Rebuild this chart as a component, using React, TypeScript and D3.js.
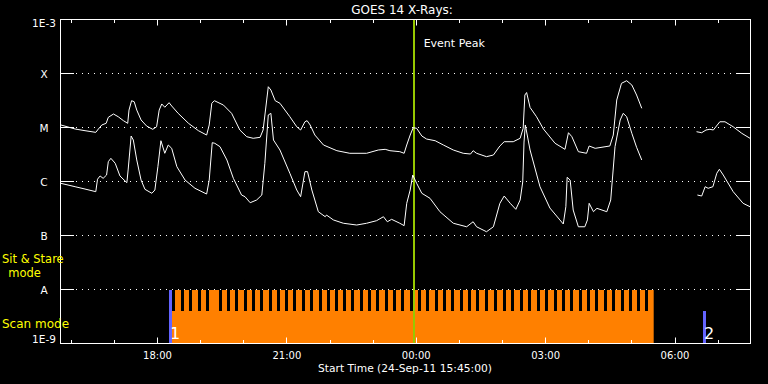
import React from "react";
import * as d3 from "d3";

// ---------- data ----------
// times in decimal hours since 24-Sep-2011 00:00 UT (values > 24 are on 25-Sep)
const START_H = 15.75;
const END_H = 31.75;

const LEVEL_VALUES = [1e-9, 1e-8, 1e-7, 1e-6, 1e-5, 1e-4, 1e-3];
const LEVEL_LABELS = ["1E-9", "A", "B", "C", "M", "X", "1E-3"];

// GOES long channel (1-8 A)
const LONG_T = [
  15.77, 16.10, 16.33, 16.58, 16.64, 16.72, 16.82, 16.87, 16.99, 17.10,
  17.22, 17.32, 17.35, 17.41, 17.47, 17.53, 17.63, 17.76, 17.90, 17.99,
  18.05, 18.11, 18.18, 18.28, 18.34, 18.49, 18.73, 18.96, 19.15, 19.21,
  19.27, 19.33, 19.54, 19.73, 19.92, 20.08, 20.23, 20.39, 20.46, 20.58,
  20.64, 20.74, 20.85, 21.08, 21.24, 21.33, 21.43, 21.48, 21.55, 21.66,
  21.86, 22.17, 22.47, 22.86, 23.13, 23.29, 23.40, 23.63, 23.73, 23.79,
  23.87, 23.94, 24.02, 24.14, 24.25, 24.45, 24.64, 24.87, 25.10, 25.27,
  25.33, 25.41, 25.64, 25.80, 25.95, 26.05, 26.26, 26.42, 26.49, 26.53,
  26.57, 26.65, 26.80, 26.96, 27.23, 27.46, 27.54, 27.62, 27.77, 27.96,
  28.02, 28.16, 28.50, 28.58, 28.66, 28.77, 28.89, 29.01, 29.12, 29.24,
  30.0,
  30.51, 30.63, 30.73, 30.82, 30.90, 31.05, 31.17, 31.36, 31.56, 31.75,
];
const LONG_F: (number | null)[] = [
  1.09e-5, 9.18e-6, 8.54e-6, 7.96e-6, 9.18e-6, 1.09e-5, 1.17e-5, 1.51e-5, 1.74e-5, 1.55e-5,
  1.31e-5, 1.17e-5, 2.06e-5, 3.07e-5, 2.94e-5, 2.06e-5, 1.35e-5, 1.04e-5, 9.06e-6, 1.01e-5,
  2.06e-5, 2.67e-5, 2.32e-5, 2.82e-5, 2.45e-5, 1.79e-5, 1.17e-5, 8.54e-6, 7.10e-6, 1.09e-5,
  2.75e-5, 3.07e-5, 2.55e-5, 1.79e-5, 8.80e-6, 6.61e-6, 6.18e-6, 6.44e-6, 8.80e-6, 5.57e-5,
  4.84e-5, 3.07e-5, 2.75e-5, 1.55e-5, 1.01e-5, 8.80e-6, 1.25e-5, 1.31e-5, 1.09e-5, 7.10e-6,
  4.64e-6, 3.64e-6, 3.26e-6, 3.26e-6, 3.75e-6, 3.86e-6, 3.64e-6, 3.49e-6, 3.26e-6, 4.64e-6,
  7.10e-6, 9.70e-6, 9.46e-6, 6.81e-6, 5.99e-6, 5.57e-6, 4.64e-6, 3.75e-6, 3.26e-6, 3.16e-6,
  3.64e-6, 3.26e-6, 2.82e-6, 3.03e-6, 4.45e-6, 5.34e-6, 5.34e-6, 6.18e-6, 9.46e-6, 3.91e-5,
  4.35e-5, 2.30e-5, 1.55e-5, 9.18e-6, 4.99e-6, 3.86e-6, 7.84e-6, 6.61e-6, 3.49e-6, 3.26e-6,
  4.45e-6, 4.03e-6, 4.45e-6, 7.10e-6, 3.16e-5, 6.44e-5, 7.20e-5, 5.99e-5, 3.91e-5, 2.22e-5,
  null,
  8.18e-6, 7.84e-6, 8.80e-6, 9.06e-6, 8.80e-6, 1.25e-5, 1.25e-5, 1.01e-5, 7.64e-6, 6.18e-6,
];

// GOES short channel (0.5-4 A)
const SHORT_T = [
  15.77, 16.10, 16.33, 16.58, 16.62, 16.68, 16.75, 16.83, 16.87, 16.93,
  17.03, 17.14, 17.30, 17.33, 17.40, 17.45, 17.53, 17.63, 17.72, 17.88,
  17.95, 18.02, 18.09, 18.18, 18.26, 18.34, 18.46, 18.65, 18.88, 19.15,
  19.21, 19.28, 19.34, 19.46, 19.62, 19.77, 19.96, 20.04, 20.16, 20.31,
  20.43, 20.50, 20.58, 20.64, 20.70, 20.85, 21.08, 21.24, 21.33, 21.43,
  21.49, 21.59, 21.74, 21.90, 21.93, 22.09, 22.32, 22.63, 22.86, 23.09,
  23.25, 23.34, 23.44, 23.63, 23.73, 23.79, 23.87, 23.93, 24.02, 24.14,
  24.33, 24.56, 24.87, 25.18, 25.33, 25.41, 25.64, 25.80, 25.95, 26.05,
  26.19, 26.32, 26.42, 26.48, 26.51, 26.54, 26.65, 26.88, 27.11, 27.42,
  27.48, 27.51, 27.58, 27.65, 27.77, 27.92, 27.98, 28.02, 28.12, 28.20,
  28.43, 28.52, 28.62, 28.74, 28.81, 28.89, 29.01, 29.12, 29.24,
  30.0,
  30.53, 30.63, 30.71, 30.78, 30.89, 30.98, 31.04, 31.13, 31.36, 31.59, 31.75,
];
const SHORT_F: (number | null)[] = [
  9.06e-7, 7.84e-7, 7.10e-7, 6.34e-7, 1.08e-6, 1.24e-6, 1.12e-6, 1.29e-6, 2.28e-6, 2.63e-6,
  2.13e-6, 1.24e-6, 9.30e-7, 1.60e-6, 6.81e-6, 5.74e-6, 2.45e-6, 1.04e-6, 7.02e-7, 5.92e-7,
  6.81e-7, 1.84e-6, 5.57e-6, 3.26e-6, 4.64e-6, 4.03e-6, 1.84e-6, 1.04e-6, 7.33e-7, 5.74e-7,
  1.04e-6, 5.12e-6, 4.99e-6, 4.32e-6, 2.45e-6, 1.12e-6, 5.50e-7, 5.12e-7, 3.96e-7, 4.45e-7,
  5.50e-7, 2.13e-6, 1.67e-5, 1.79e-5, 5.74e-6, 3.75e-6, 1.39e-6, 6.81e-7, 5.12e-7, 1.49e-6,
  1.49e-6, 6.81e-7, 2.70e-7, 2.18e-7, 2.34e-7, 1.90e-7, 1.65e-7, 1.53e-7, 1.65e-7, 1.84e-7,
  2.18e-7, 1.76e-7, 1.95e-7, 1.65e-7, 1.49e-7, 3.86e-7, 6.81e-7, 1.29e-6, 9.06e-7, 5.92e-7,
  4.78e-7, 2.70e-7, 1.65e-7, 1.42e-7, 1.76e-7, 1.42e-7, 1.15e-7, 1.42e-7, 3.86e-7, 5.27e-7,
  3.86e-7, 2.99e-7, 4.45e-7, 9.58e-7, 5.27e-6, 1.09e-5, 3.75e-6, 7.84e-7, 3.16e-7, 1.60e-7,
  3.34e-7, 1.17e-6, 1.04e-6, 2.90e-7, 1.42e-7, 1.42e-7, 1.90e-7, 3.86e-7, 2.70e-7, 3.12e-7,
  2.70e-7, 4.45e-7, 4.32e-6, 1.35e-5, 1.79e-5, 1.55e-5, 7.64e-6, 4.21e-6, 2.45e-6,
  null,
  5.50e-7, 5.27e-7, 7.84e-7, 7.33e-7, 7.84e-7, 1.39e-6, 1.65e-6, 1.29e-6, 6.34e-7, 3.86e-7, 3.34e-7,
];

// observing: scan mode interval with sit & stare interruptions
const SCAN_START = "18:18";
const SCAN_END = "05:31";
const SCAN_GAPS = [
  "18:21", "18:33", "18:45", "18:57", "19:08", "19:26", "19:37", "19:49", "20:01", "20:12",
  "20:23", "20:36", "20:47", "20:58", "21:09", "21:22", "21:33", "21:45", "21:57", "22:08",
  "22:19", "22:30", "22:42", "22:54", "23:05", "23:17", "23:28", "23:39", "23:52", "00:03",
  "00:14", "00:27", "00:38", "00:49", "01:02", "01:13", "01:24", "01:36", "01:49", "02:01",
  "02:13", "02:25", "02:36", "02:49", "03:00", "03:12", "03:23", "03:35", "03:47", "03:58",
  "04:09", "04:22", "04:33", "04:46", "04:57", "05:08", "05:19",
];
const GAP_MINUTES = 4;
const MARK_TIMES = ["18:17", "06:40"];
const MARK_LABELS = ["1", "2"];
const EVENT_PEAK = "23:57";

const TITLE = "GOES 14 X-Rays:";
const X_TITLE = "Start Time (24-Sep-11 15:45:00)";

// ---------- helpers ----------
const T0 = Date.UTC(2011, 8, 24, 0, 0, 0);
const toDate = (h: number) => new Date(T0 + h * 3600000);
const hhmm = (s: string) => {
  const [hh, mm] = s.split(":").map(Number);
  const h = hh + mm / 60;
  return h < 12 ? h + 24 : h;
};
const c = (v: number) => Math.round(v) + 0.5;

const W = 768;
const H = 384;
const L = 60, R = 750, T = 19, B = 343;
const FONT = "'DejaVu Sans', sans-serif";

export default function App() {
  const x = d3.scaleUtc().domain([toDate(START_H), toDate(END_H)]).range([L, R]);
  const y = d3.scaleLog().domain([1e-9, 1e-3]).range([B, T]);

  type P = [Date, number | null];
  const line = d3
    .line<P>()
    .defined((d) => d[1] != null)
    .x((d) => x(d[0]))
    .y((d) => y(d[1] as number));

  const longPts: P[] = LONG_T.map((t, i) => [toDate(t), LONG_F[i]]);
  const shortPts: P[] = SHORT_T.map((t, i) => [toDate(t), SHORT_F[i]]);

  const hourTicks = x.ticks(d3.utcHour.every(1)!);
  const majorTicks = x.ticks(d3.utcHour.every(3)!);
  const fmt = d3.utcFormat("%H:%M");
  const isMajor = (d: Date) => d.getUTCHours() % 3 === 0;

  const bandTop = c(y(1e-8)) + 0.5;
  const stripeBottom = bandTop + 21;
  const scanX0 = x(toDate(hhmm(SCAN_START)));
  const scanX1 = x(toDate(hhmm(SCAN_END)));
  const peakX = x(toDate(hhmm(EVENT_PEAK)));

  return (
    <svg
      width={W}
      height={H}
      viewBox={`0 0 ${W} ${H}`}
      style={{ position: "absolute", left: 0, top: 0, display: "block", background: "#000" }}
    >
      <rect x={0} y={0} width={W} height={H} fill="#000" />

      {/* scan mode band */}
      <rect x={scanX0} y={bandTop} width={scanX1 - scanX0} height={B + 1 - bandTop} fill="#ff8000" />
      {SCAN_GAPS.map((g, i) => {
        const h = hhmm(g);
        const x0 = x(toDate(h));
        const x1 = x(toDate(h + GAP_MINUTES / 60));
        return <rect key={i} x={Math.round(x0)} y={bandTop} width={Math.max(1, Math.round(x1 - x0))} height={stripeBottom - bandTop} fill="#000" />;
      })}

      {/* level grid: ticks and dotted lines */}
      {LEVEL_VALUES.slice(1, -1).map((v, i) => {
        const yy = c(y(v));
        return (
          <g key={i}>
            <line x1={L} x2={L + 14} y1={yy} y2={yy} stroke="#fff" strokeWidth={1} />
            <line x1={R - 14} x2={R} y1={yy} y2={yy} stroke="#fff" strokeWidth={1} />
            <line x1={L + 16} x2={R - 14} y1={yy} y2={yy} stroke="#fff" strokeWidth={1} strokeDasharray="1 5" />
          </g>
        );
      })}

      {/* observation markers */}
      {MARK_TIMES.map((m, i) => {
        const xm = x(toDate(hhmm(m)));
        const y0 = i === 0 ? bandTop : stripeBottom;
        return (
          <g key={i}>
            <rect x={Math.round(xm)} y={y0} width={3} height={B + 1 - y0} fill="#6464ff" />
            <text x={Math.round(xm) + 1} y={339} fill="#fff" fontFamily={FONT} fontSize={16}>
              {MARK_LABELS[i]}
            </text>
          </g>
        );
      })}

      {/* event peak */}
      <rect x={Math.round(peakX) - 1} y={T} width={2} height={B - T} fill="#96c800" />
      <text x={peakX + 10} y={46.5} fill="#fff" fontFamily={FONT} fontSize={11}>
        Event Peak
      </text>

      {/* curves */}
      <path d={line(longPts) || ""} fill="none" stroke="#fff" strokeWidth={1} />
      <path d={line(shortPts) || ""} fill="none" stroke="#fff" strokeWidth={1} />

      {/* frame */}
      <rect x={L + 0.5} y={T + 0.5} width={R - L} height={B - T} fill="none" stroke="#fff" strokeWidth={1} />

      {/* time ticks */}
      {hourTicks.map((d, i) => {
        const xx = c(x(d));
        const len = isMajor(d) ? 6 : 3.5;
        return (
          <g key={i}>
            <line x1={xx} x2={xx} y1={B + 0.5} y2={B + 0.5 - len} stroke="#fff" strokeWidth={1} />
            <line x1={xx} x2={xx} y1={T + 0.5} y2={T + 0.5 + len} stroke="#fff" strokeWidth={1} />
          </g>
        );
      })}
      {majorTicks.map((d, i) => (
        <text key={i} x={x(d) + 0.5} y={359} fill="#fff" fontFamily={FONT} fontSize={10} textAnchor="middle">
          {fmt(d)}
        </text>
      ))}

      {/* level labels */}
      {LEVEL_VALUES.map((v, i) => {
        const yy = y(v);
        const base = i === 0 ? B : i === LEVEL_VALUES.length - 1 ? T + 8 : yy + 4.6;
        return (
          <text key={i} x={44} y={base} fill="#ffffff" fontFamily={FONT} fontSize={10.5} textAnchor="middle">
            {LEVEL_LABELS[i]}
          </text>
        );
      })}

      {/* mode labels */}
      <text x={2} y={262.5} fill="#ffff00" fontFamily={FONT} fontSize={11.5}>Sit &amp; Stare</text>
      <text x={24.5} y={276.5} fill="#ffff00" fontFamily={FONT} fontSize={11.5} textAnchor="middle">mode</text>
      <text x={2} y={328} fill="#ffff00" fontFamily={FONT} fontSize={12}>Scan mode</text>

      {/* titles */}
      <text x={402} y={14} fill="#fff" fontFamily={FONT} fontSize={12} textAnchor="middle">{TITLE}</text>
      <text x={405} y={372} fill="#fff" fontFamily={FONT} fontSize={10.7} textAnchor="middle">{X_TITLE}</text>
    </svg>
  );
}
